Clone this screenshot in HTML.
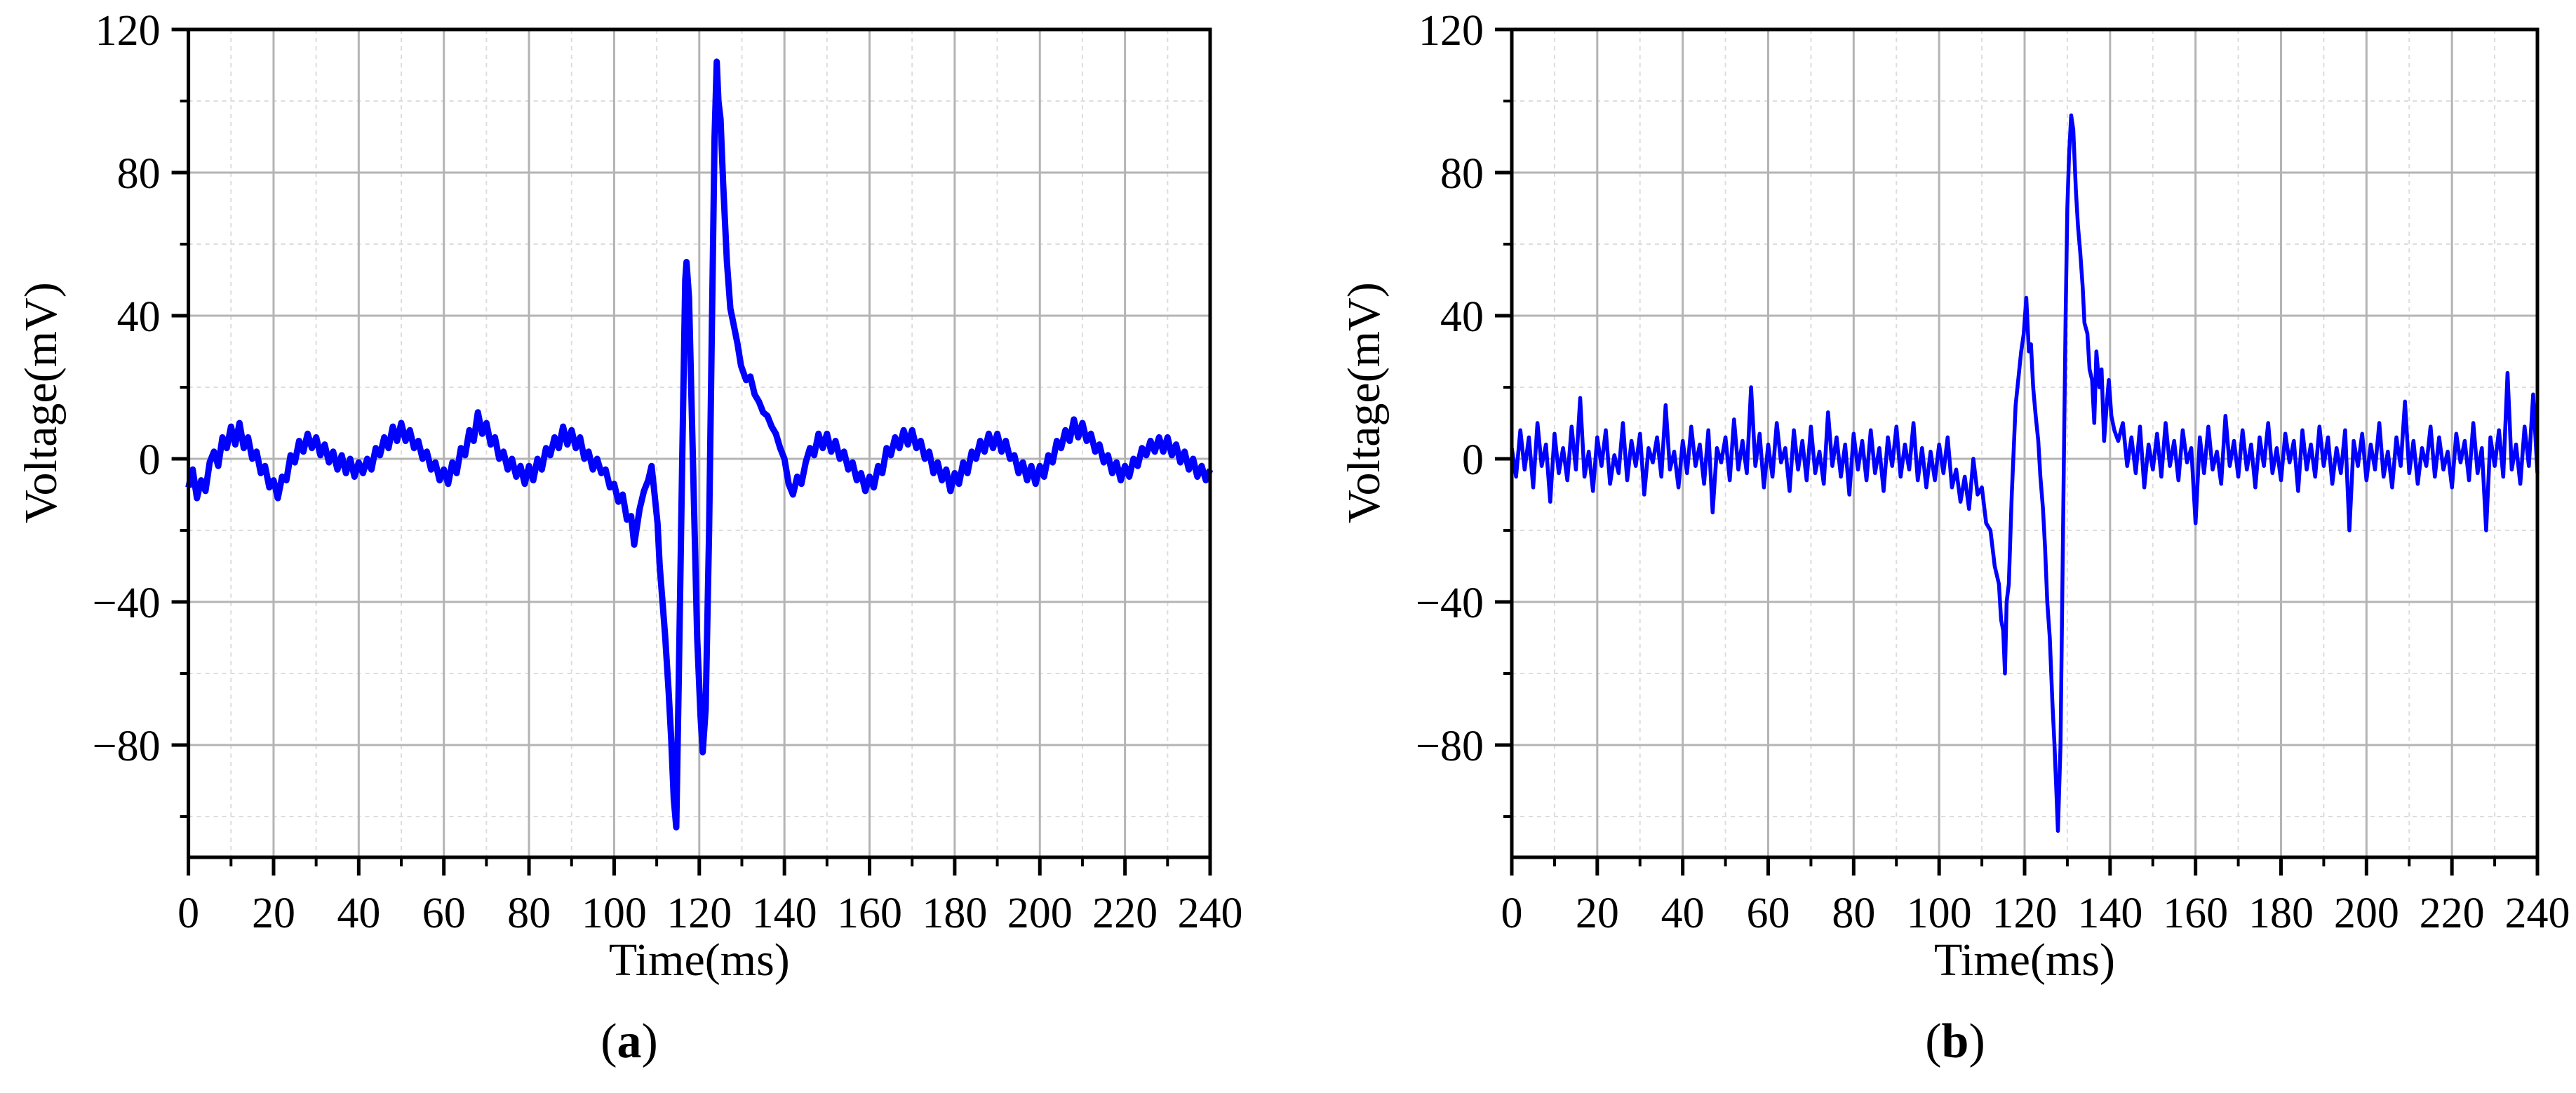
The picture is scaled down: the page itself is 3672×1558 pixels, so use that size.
<!DOCTYPE html>
<html><head><meta charset="utf-8">
<style>
html,body{margin:0;padding:0;background:#fff;}
svg{display:block;}
text{font-family:"Liberation Serif",serif;fill:#000;}
</style></head>
<body>
<svg id="fig" width="3672" height="1558" viewBox="0 0 3672 1558" xmlns="http://www.w3.org/2000/svg"></svg>
<script>
const xTicks=[0,20,40,60,80,100,120,140,160,180,200,220,240];
const yTicks=[120,80,40,0,-40,-80];
const yMinor=[100,60,20,-20,-60,-100];
const timeA=[0,1,2,3,4,5,6,7,8,9,10,11,12,13,14,15,16,17,18,19,20,21,22,23,24,25,26,27,28,29,30,31,32,33,34,35,36,37,38,39,40,41,42,43,44,45,46,47,48,49,50,51,52,53,54,55,56,57,58,59,60,61,62,63,64,65,66,67,68,69,70,71,72,73,74,75,76,77,78,79,80,81,82,83,84,85,86,87,88,89,90,91,92,93,94,95,96,97,98,99,100,101,102,103,104,104.7,106,107,108,108.8,109.5,110.2,110.7,111.5,112,112.8,113.4,114,114.6,115.2,116,116.7,117,117.6,118.5,119.5,120.3,120.8,121.5,122.3,123,123.6,124.1,124.5,125,125.6,126.5,127.3,128,129,129.8,131,132,133,134,135,136,137,138,139,140,141,142,143,144,145,146,147,148,149,150,151,152,153,154,155,156,157,158,159,160,161,162,163,164,165,166,167,168,169,170,171,172,173,174,175,176,177,178,179,180,181,182,183,184,185,186,187,188,189,190,191,192,193,194,195,196,197,198,199,200,201,202,203,204,205,206,207,208,209,210,211,212,213,214,215,216,217,218,219,220,221,222,223,224,225,226,227,228,229,230,231,232,233,234,235,236,237,238,239,240];
const voltA=[-8,-3,-11,-6,-9,-1,2,-2,6,3,9,4,10,3,6,0,2,-4,-2,-8,-6,-11,-5,-6,1,-1,5,2,7,3,6,1,4,-1,2,-3,1,-4,0,-5,-1,-4,0,-3,3,1,6,3,9,5,10,5,8,3,5,0,2,-3,-1,-6,-3,-7,-1,-4,3,1,8,5,13,7,10,4,6,0,2,-3,0,-5,-2,-7,-2,-6,0,-3,3,1,6,3,9,4,8,3,6,0,2,-3,0,-4,-3,-8,-7,-12,-10,-17,-16,-24,-14,-9,-6,-2,-10,-18,-30,-42,-50,-65,-78,-95,-103,-60,0,50,55,45,0,-50,-72,-82,-70,-20,40,90,111,100,95,77,55,42,38,32,26,22,23,18,16,13,12,9,7,3,0,-7,-10,-5,-7,-1,3,1,7,3,7,2,5,0,2,-3,-1,-6,-4,-9,-5,-8,-2,-4,3,1,6,3,8,4,8,3,5,0,2,-4,-1,-6,-3,-9,-4,-7,-1,-4,2,0,5,2,7,3,7,2,5,0,1,-4,-1,-6,-2,-7,-2,-5,1,-1,5,3,8,5,11,6,10,5,7,2,4,-1,1,-4,-1,-6,-2,-5,0,-2,3,1,5,2,6,2,6,1,4,-1,2,-3,0,-5,-2,-6,-3];
const timeB=[0,1,2,3,4,5,6,7,8,9,10,11,12,13,14,15,16,17,18,19,20,21,22,23,24,25,26,27,28,29,30,31,32,33,34,35,36,37,38,39,40,41,42,43,44,45,46,47,48,49,50,51,52,53,54,55,56,57,58,59,60,61,62,63,64,65,66,67,68,69,70,71,72,73,74,75,76,77,78,79,80,81,82,83,84,85,86,87,88,89,90,91,92,93,94,95,96,97,98,99,100,101,102,103,104,105,106,107,108,109,110,111,112,113,114,114.5,115,115.4,115.8,116.3,117,117.9,118.5,119.2,119.8,120.4,121,121.5,122,122.6,123.2,123.7,124.3,124.8,125.3,125.9,126.5,127,127.5,127.8,128.4,128.8,129.2,129.6,130,130.4,130.9,131.4,132,132.5,133,133.6,134,134.7,135.2,135.8,136.3,136.8,137.5,138,138.6,139.2,139.7,140.3,141,141.9,143,144,145,146,147,148,149,150,151,152,153,154,155,156,157,158,159,160,161,162,163,164,165,166,167,168,169,170,171,172,173,174,175,176,177,178,179,180,181,182,183,184,185,186,187,188,189,190,191,192,193,194,195,196,197,198,199,200,201,202,203,204,205,206,207,208,209,210,211,212,213,214,215,216,217,218,219,220,221,222,223,224,225,226,227,228,229,230,231,232,233,234,235,236,237,238,239,240];
const voltB=[3,-5,8,-3,6,-8,10,-2,4,-12,7,-4,3,-6,9,-3,17,-5,2,-9,6,-2,8,-7,1,-4,10,-6,5,-2,7,-10,3,-1,6,-5,15,-3,2,-8,5,-4,9,-2,4,-7,8,-15,3,-1,6,-6,11,-3,5,-4,20,-2,7,-8,4,-5,10,-1,3,-9,8,-3,5,-6,9,-4,2,-7,13,-2,6,-5,4,-10,7,-3,5,-6,8,-4,3,-9,6,-2,9,-5,4,-3,10,-6,3,-8,2,-6,4,-4,6,-8,-3,-12,-5,-14,0,-10,-8,-18,-20,-30,-35,-45,-48,-60,-40,-35,-10,15,22,30,35,45,30,32,20,12,5,-5,-14,-25,-40,-50,-68,-80,-95,-104,-80,-40,0,40,70,85,96,92,75,65,58,48,38,35,25,22,10,30,20,25,5,15,22,12,8,5,10,-2,6,-4,9,-8,4,-3,7,-5,10,-2,5,-6,8,-1,3,-18,6,-4,9,-3,2,-7,12,-2,5,-5,8,-3,4,-8,6,-2,10,-4,3,-6,7,-1,5,-9,8,-3,4,-5,9,-2,6,-7,3,-4,8,-20,5,-2,7,-6,4,-3,10,-5,2,-8,6,-2,16,-4,5,-7,3,-2,9,-5,6,-3,2,-8,7,-1,5,-6,10,-4,3,-20,6,-2,8,-5,24,-3,4,-7,9,-2,18,-4];

const NS='http://www.w3.org/2000/svg';
const svg=document.getElementById('fig');
function mk(tag,attrs,parent){const e=document.createElementNS(NS,tag);for(const k in attrs)e.setAttribute(k,attrs[k]);(parent||svg).appendChild(e);return e;}

const TOP=42, BOT=1222, PXV=5.1;
function drawPanel(id,L,R,times,volts,sw,label,labelX,yTitleX){
  const g=mk('g',{});
  
  
  const xs=t=>L+(t/240)*(R-L);
  const ys=v=>TOP+(120-v)*PXV;
  for(let t=10;t<240;t+=20){const l=mk('line',{x1:xs(t),x2:xs(t),y1:TOP,y2:BOT,stroke:'#ddd','stroke-width':2,'stroke-dasharray':'6 6'},g);
    }
  yMinor.forEach(v=>{const l=mk('line',{x1:L,x2:R,y1:ys(v),y2:ys(v),stroke:'#ddd','stroke-width':2,'stroke-dasharray':'6 6'},g);
    });
  xTicks.forEach(t=>{const l=mk('line',{x1:xs(t),x2:xs(t),y1:TOP,y2:BOT,stroke:'#b4b4b4','stroke-width':3},g);
    });
  yTicks.forEach(v=>{const l=mk('line',{x1:L,x2:R,y1:ys(v),y2:ys(v),stroke:'#b4b4b4','stroke-width':3},g);
    });
  let d='';
  for(let i=0;i<times.length;i++){d+=(i?'L':'M')+xs(times[i]).toFixed(1)+' '+ys(volts[i]).toFixed(1);}
  const p=mk('path',{d:d,fill:'none',stroke:'#0000ff','stroke-width':sw,'stroke-linejoin':'round'},g);
  
  const f=mk('rect',{x:L,y:TOP,width:R-L,height:BOT-TOP,fill:'none',stroke:'#000','stroke-width':5},g);
  
  xTicks.forEach(t=>{const l=mk('line',{x1:xs(t),x2:xs(t),y1:BOT,y2:BOT+26,stroke:'#000','stroke-width':5},g);
    
    const tx=mk('text',{x:xs(t),y:1322,'font-size':62,'text-anchor':'middle'},g);tx.textContent=t;
    });
  for(let t=10;t<240;t+=20){const l=mk('line',{x1:xs(t),x2:xs(t),y1:BOT,y2:BOT+13,stroke:'#000','stroke-width':4},g);
    }
  yTicks.forEach(v=>{const l=mk('line',{x1:L-24,x2:L,y1:ys(v),y2:ys(v),stroke:'#000','stroke-width':5},g);
    
    const tx=mk('text',{x:L-40,y:ys(v)+22,'font-size':62,'text-anchor':'end'},g);tx.textContent=v<0?'\u2212'+(-v):String(v);
    });
  yMinor.forEach(v=>{const l=mk('line',{x1:L-12,x2:L,y1:ys(v),y2:ys(v),stroke:'#000','stroke-width':4},g);
    });
  const xt=mk('text',{x:(L+R)/2,y:1390,'font-size':66,'text-anchor':'middle'},g);xt.textContent='Time(ms)';
  
  const yt=mk('text',{x:0,y:0,'font-size':66,'text-anchor':'middle',transform:'translate('+yTitleX+',574) rotate(-90)'},g);yt.textContent='Voltage(mV)';
  
  const cap=mk('text',{x:labelX,y:1507,'font-size':70,'text-anchor':'middle'},g);
  cap.innerHTML='(<tspan font-weight="bold">'+label+'</tspan>)';
  
}
drawPanel('a',268.6,1725,timeA,voltA,9,'a',897,80);
drawPanel('b',2155,3617,timeB,voltB,5.5,'b',2787,1966);
</script>
</body></html>
